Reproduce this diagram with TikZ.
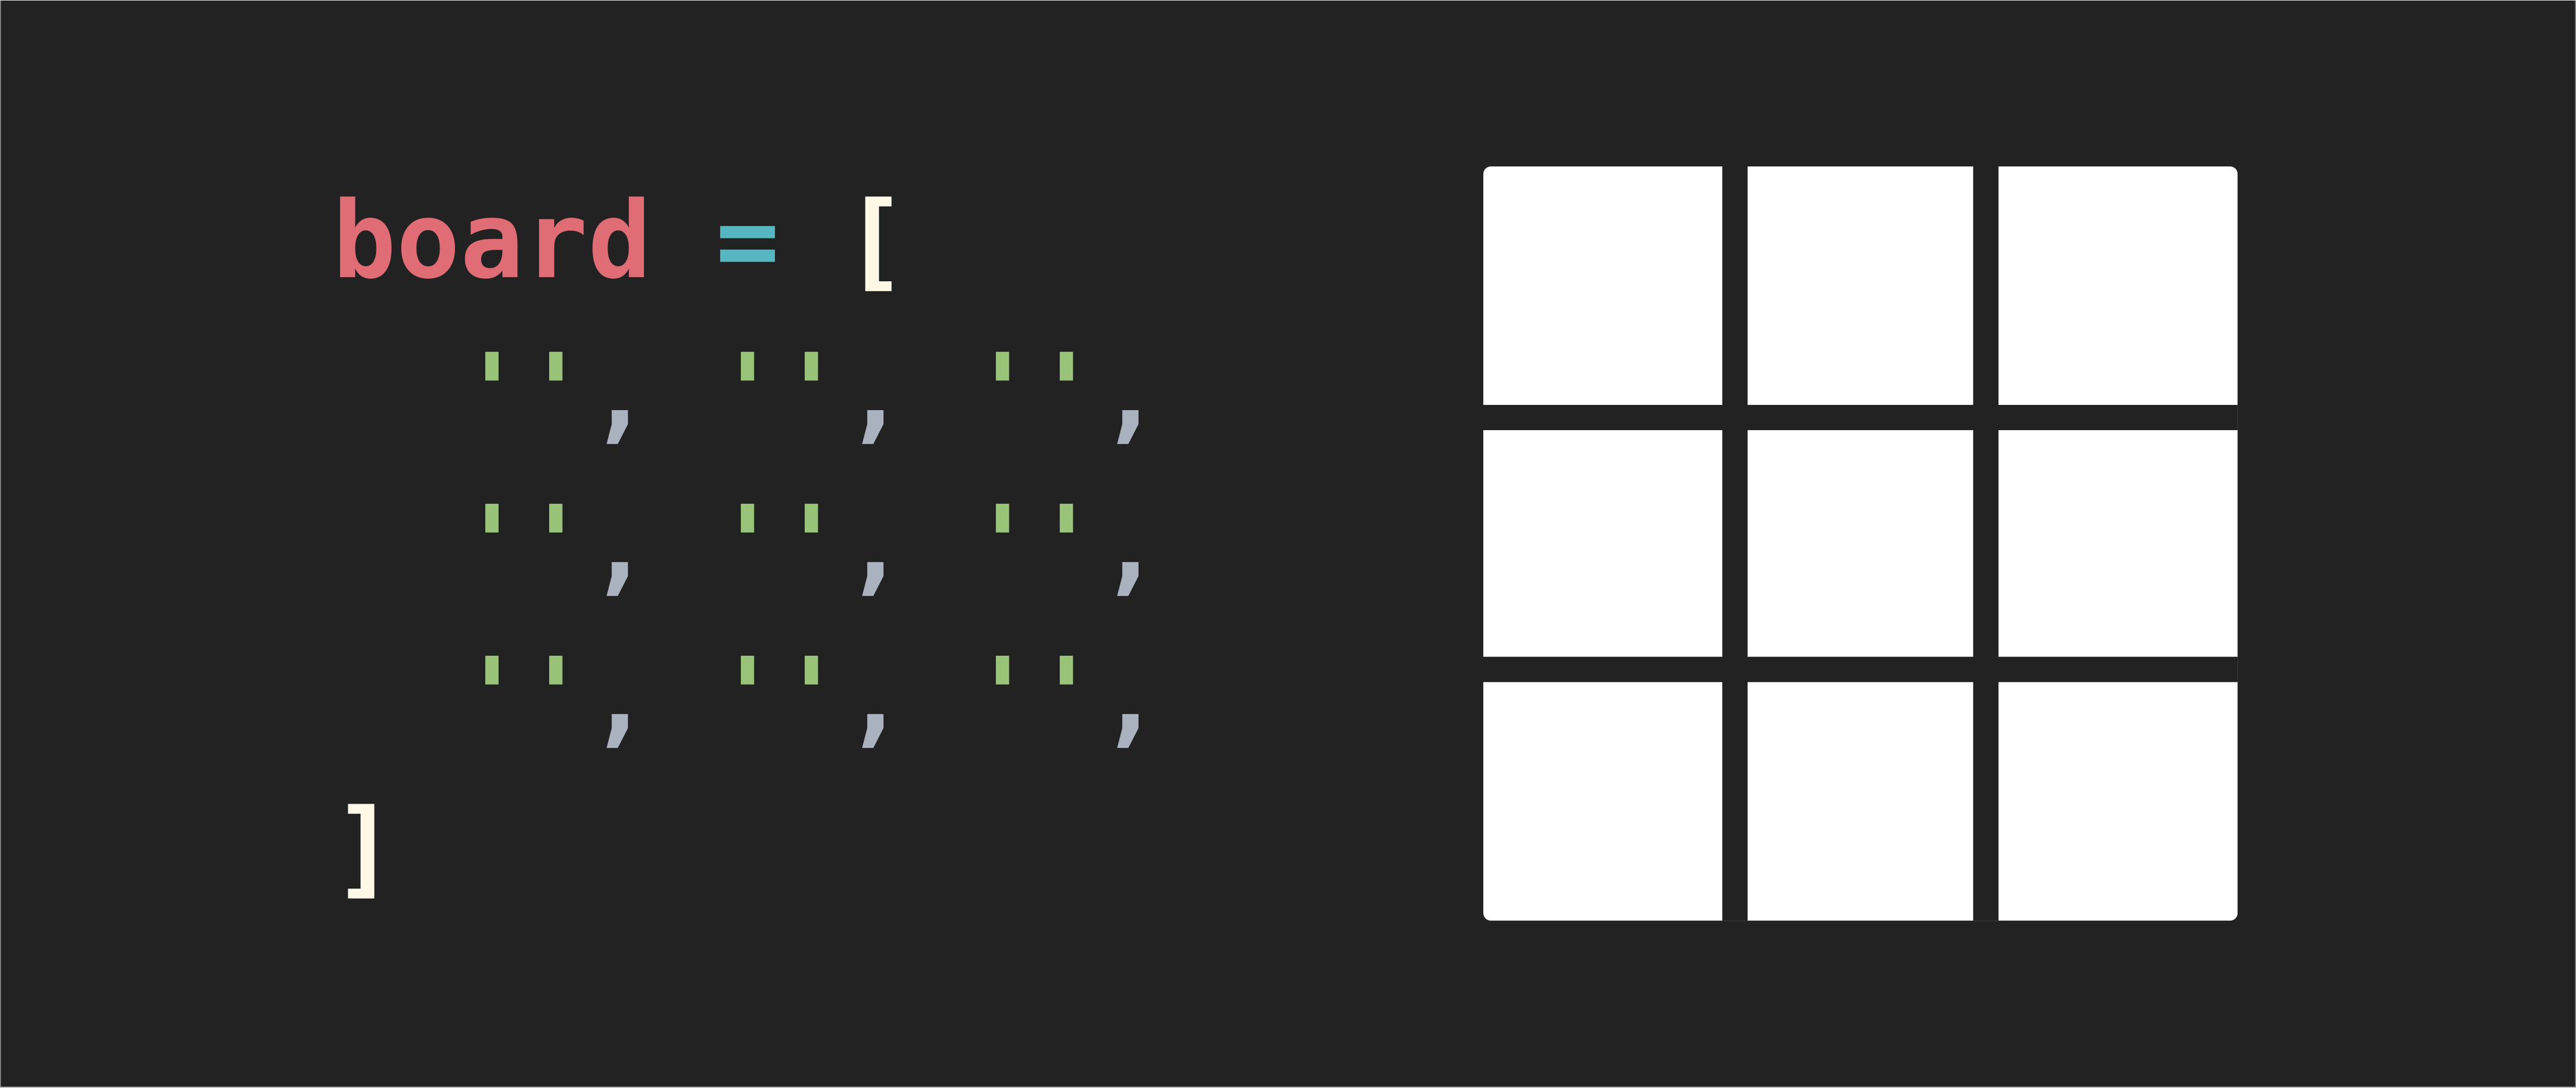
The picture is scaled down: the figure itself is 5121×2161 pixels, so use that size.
\documentclass[tikz,border=0pt]{standalone}
\usepackage{fontspec}
\setmonofont{DejaVu Sans Mono}
\usetikzlibrary{calc}
\definecolor{bgdark}{HTML}{222222}
\definecolor{kwred}{HTML}{E06C75}
\definecolor{opcyan}{HTML}{56B6C2}
\definecolor{brcream}{HTML}{FFF8E7}
\definecolor{strgreen}{HTML}{98C379}
\definecolor{sepgrey}{HTML}{ABB2BF}
\newcommand*{\codefont}{\fontsize{60}{72}\selectfont\ttfamily\bfseries}
\newcommand*{\sq}{\char39}

\begin{document}
\begin{tikzpicture}[x=0.01cm,y=-0.01cm,
  tok/.style={inner sep=0pt,anchor=base west,font=\codefont}]
% Background, 5121 by 2161 px, y runs downwards
\fill[bgdark] (0,0) rectangle (5121,2161);
\draw[gray,line width=0.6pt] (0,0) -- (0,2161) -- (5121,2161) -- (5121,0);
\useasboundingbox (0,0) rectangle (5121,2161);
% One column of code is \adv wide, one line is \lh high
\def\adv{126.96}
\def\lh{302}
\coordinate (o) at (660,551);
% First line
\node[tok,kwred] (name) at (o) {board};
\node[tok,opcyan] (eq) at ($(o)+(6*\adv,0)$) {=};
\node[tok,brcream] (open) at ($(o)+(8*\adv,0)$) {[};
% Three rows of empty strings
\foreach \r in {1,2,3} {
  \foreach \c in {0,1,2} {
    \node[tok,strgreen] (s\r\c) at ($(o)+({(2+4*\c)*\adv},{\r*\lh})$) {\sq\sq};
    \node[tok,sepgrey] (k\r\c) at ($(o)+({(4+4*\c)*\adv},{\r*\lh})$) {,};
  }
}
% Last line
\node[tok,brcream] (close) at ($(o)+(0,4*\lh)$) {]};
% Board: a white square cut by two bars each way
\fill[white,rounded corners=0.15cm] (2949,330) rectangle (4449,1830);
\foreach \gx in {3424,3923} \fill[bgdark] (\gx,330) rectangle +(50,1500);
\foreach \gy in {804,1305} \fill[bgdark] (2949,\gy) rectangle +(1500,51);
\end{tikzpicture}
\end{document}
